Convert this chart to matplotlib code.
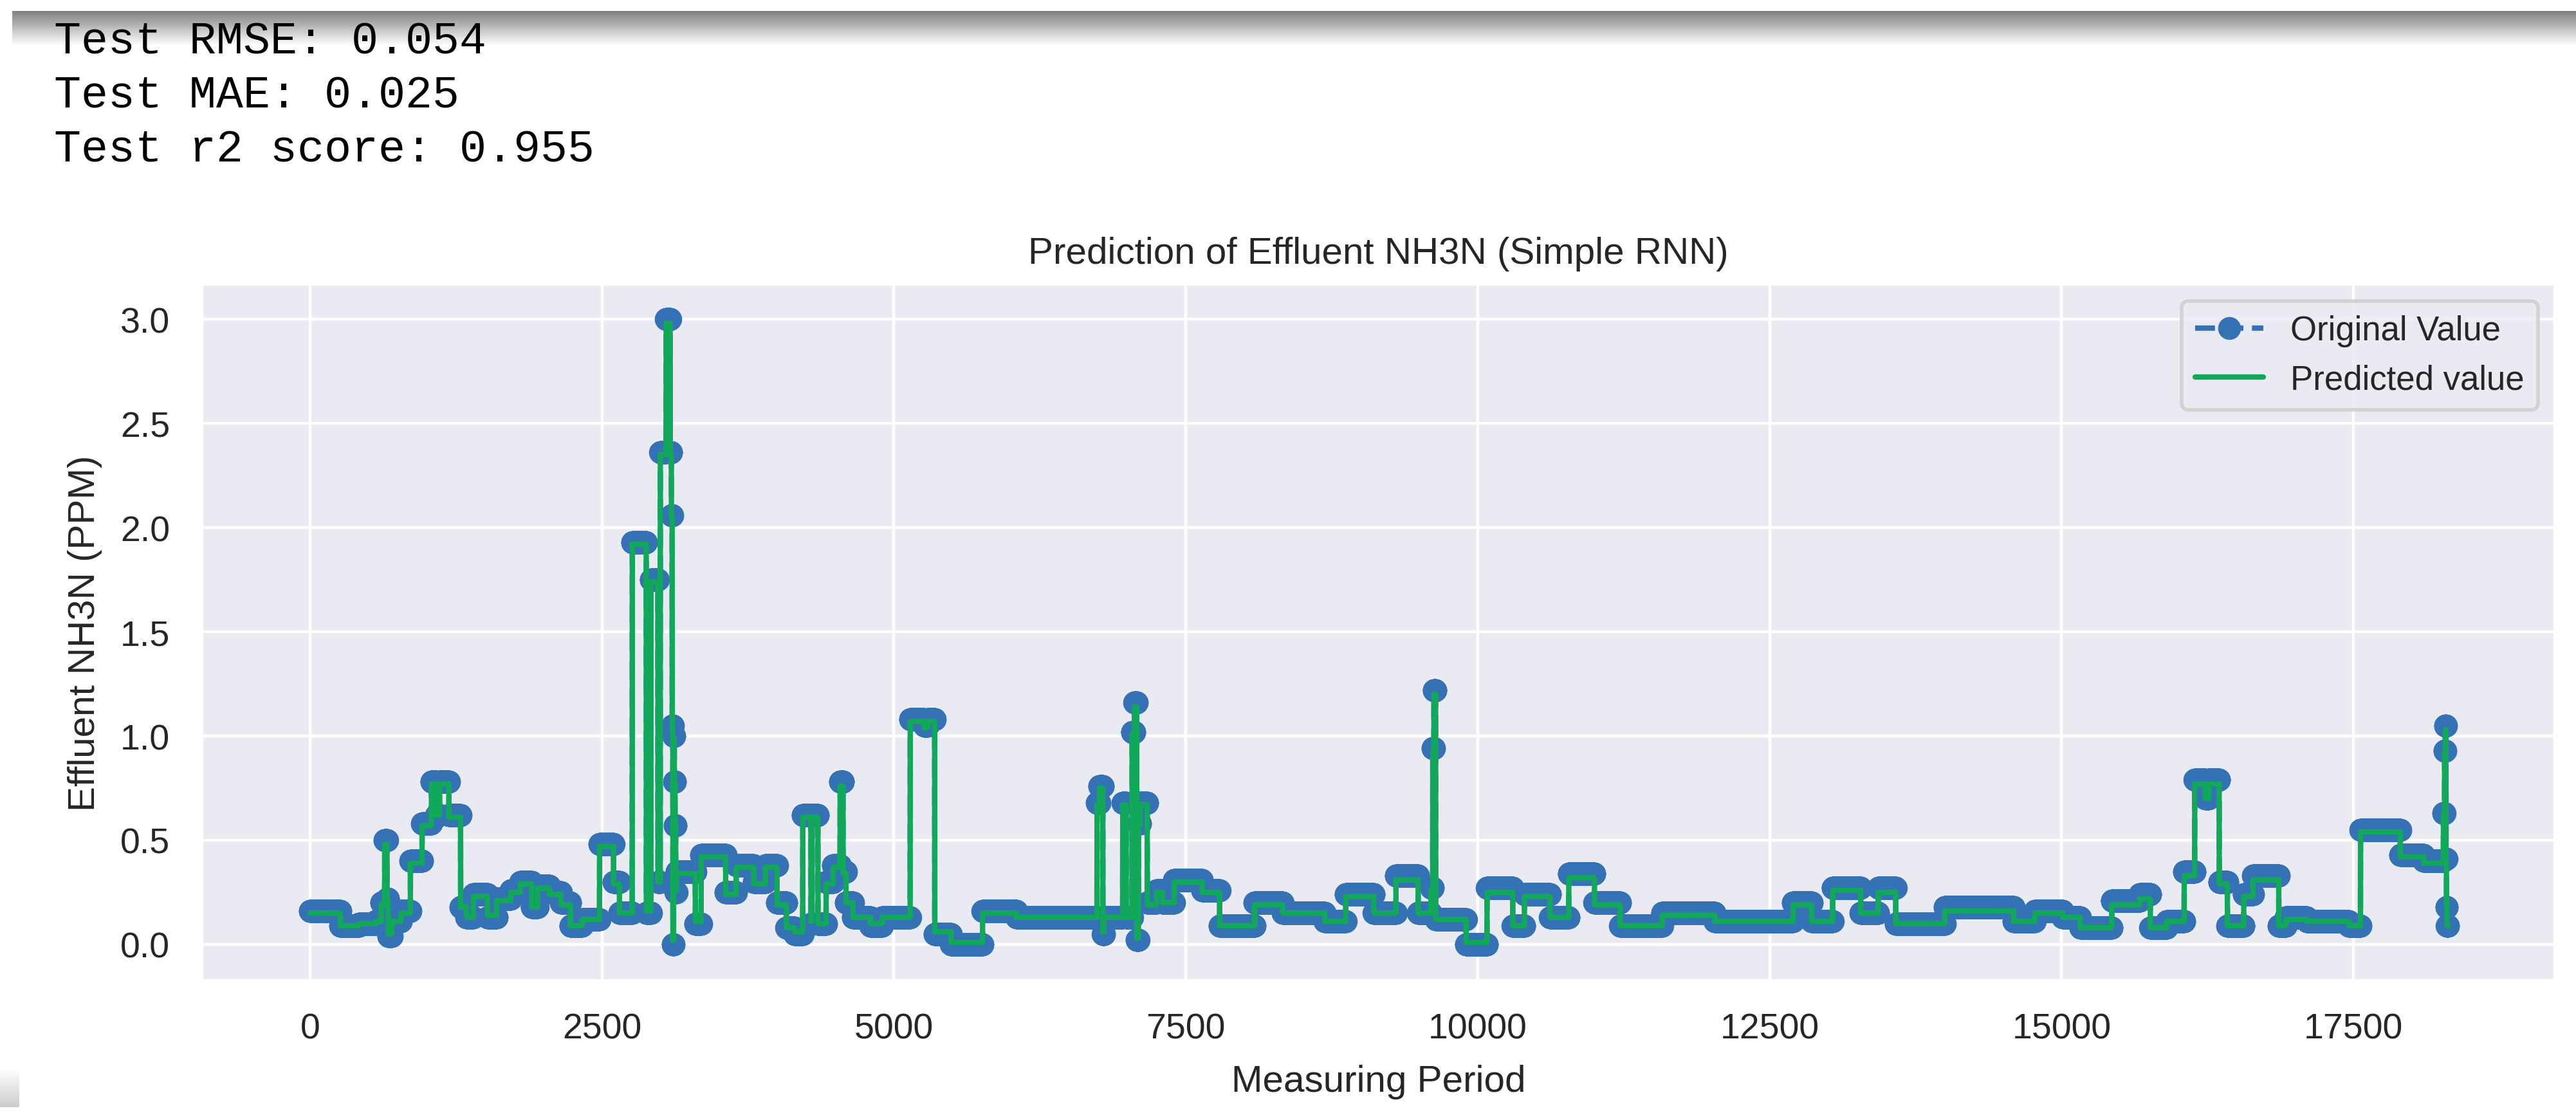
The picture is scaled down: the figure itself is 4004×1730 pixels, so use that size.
import numpy as np
import matplotlib
matplotlib.use('Agg')
import matplotlib.pyplot as plt
import seaborn as sns

# metrics printed above the chart
metric_lines = ["Test RMSE: 0.054", "Test MAE: 0.025", "Test r2 score: 0.955"]

# series: index where a run starts and its level
seg_start = [0, 260, 420, 560, 610, 640, 660, 670, 700, 780,
             860, 960, 1040, 1080, 1110, 1190, 1290, 1340, 1400, 1520,
             1600, 1720, 1800, 1900, 1950, 2050, 2150, 2230, 2330, 2480,
             2600, 2650, 2760, 2880, 2920, 2980, 3000, 3050, 3085, 3095,
             3102, 3108, 3114, 3120, 3126, 3132, 3140, 3300, 3350, 3560,
             3650, 3800, 3900, 4000, 4080, 4150, 4220, 4290, 4300, 4350,
             4420, 4480, 4540, 4565, 4590, 4650, 4800, 4900, 5140, 5260,
             5290, 5350, 5490, 5760, 6050, 6740, 6760, 6790, 6800, 6960,
             6990, 7040, 7060, 7080, 7095, 7110, 7170, 7250, 7300, 7400,
             7640, 7790, 8090, 8330, 8690, 8870, 9110, 9300, 9490, 9600,
             9615, 9625, 9640, 9900, 10080, 10300, 10400, 10620, 10780, 11000,
             11220, 11580, 12030, 12700, 12860, 13040, 13280, 13430, 13580, 14000,
             14590, 14770, 15010, 15160, 15430, 15670, 15760, 15900, 16050, 16140,
             16230, 16260, 16350, 16420, 16560, 16640, 16860, 16920, 17100, 17460,
             17560, 17900, 18100, 18270, 18280, 18286, 18292, 18296, 18300]
orig_level = [0.16, 0.09, 0.10, 0.11, 0.20, 0.50, 0.22, 0.04, 0.11, 0.16,
              0.40, 0.58, 0.78, 0.62, 0.78, 0.62, 0.18, 0.13, 0.24, 0.13,
              0.22, 0.26, 0.30, 0.18, 0.28, 0.25, 0.20, 0.09, 0.12, 0.48,
              0.30, 0.15, 1.93, 0.15, 1.75, 0.30, 2.36, 3.00, 2.36, 2.06,
              1.05, 0.00, 1.00, 0.78, 0.57, 0.25, 0.35, 0.10, 0.43, 0.25,
              0.38, 0.30, 0.38, 0.20, 0.08, 0.05, 0.62, 0.10, 0.62, 0.10,
              0.30, 0.38, 0.78, 0.35, 0.20, 0.13, 0.09, 0.13, 1.08, 1.05,
              1.08, 0.05, 0.00, 0.16, 0.13, 0.68, 0.76, 0.05, 0.13, 0.68,
              0.13, 1.02, 1.16, 0.02, 0.58, 0.68, 0.20, 0.26, 0.20, 0.31,
              0.26, 0.09, 0.20, 0.15, 0.11, 0.24, 0.15, 0.33, 0.15, 0.27,
              0.94, 1.22, 0.12, 0.00, 0.27, 0.09, 0.24, 0.13, 0.34, 0.20,
              0.09, 0.15, 0.11, 0.20, 0.11, 0.27, 0.15, 0.27, 0.10, 0.18,
              0.11, 0.16, 0.13, 0.08, 0.21, 0.24, 0.08, 0.11, 0.35, 0.79,
              0.70, 0.79, 0.30, 0.09, 0.24, 0.33, 0.09, 0.13, 0.11, 0.09,
              0.55, 0.43, 0.40, 0.63, 0.93, 1.05, 0.41, 0.18, 0.09]
pred_level = [0.15, 0.09, 0.10, 0.11, 0.19, 0.48, 0.21, 0.05, 0.11, 0.15,
              0.39, 0.57, 0.77, 0.62, 0.77, 0.61, 0.18, 0.13, 0.23, 0.14,
              0.21, 0.25, 0.29, 0.18, 0.27, 0.24, 0.19, 0.09, 0.12, 0.47,
              0.29, 0.15, 1.92, 0.16, 1.74, 0.30, 2.35, 2.98, 2.35, 2.05,
              1.04, 0.02, 0.99, 0.78, 0.57, 0.26, 0.34, 0.11, 0.42, 0.24,
              0.37, 0.29, 0.37, 0.19, 0.08, 0.06, 0.61, 0.11, 0.61, 0.10,
              0.29, 0.37, 0.76, 0.34, 0.20, 0.13, 0.10, 0.13, 1.07, 1.04,
              1.07, 0.06, 0.01, 0.15, 0.13, 0.67, 0.75, 0.06, 0.13, 0.67,
              0.13, 1.01, 1.14, 0.03, 0.57, 0.67, 0.19, 0.25, 0.20, 0.30,
              0.25, 0.09, 0.19, 0.15, 0.11, 0.23, 0.15, 0.31, 0.15, 0.26,
              0.93, 1.20, 0.12, 0.01, 0.25, 0.09, 0.23, 0.13, 0.32, 0.19,
              0.09, 0.14, 0.11, 0.19, 0.11, 0.26, 0.15, 0.25, 0.10, 0.16,
              0.11, 0.15, 0.13, 0.08, 0.19, 0.22, 0.08, 0.11, 0.33, 0.77,
              0.70, 0.77, 0.29, 0.09, 0.23, 0.31, 0.09, 0.12, 0.11, 0.09,
              0.54, 0.42, 0.39, 0.62, 0.92, 1.03, 0.40, 0.18, 0.09]
n_points = 18310

lengths = np.diff(seg_start + [n_points])
original = np.repeat(orig_level, lengths)
predicted = np.repeat(pred_level, lengths)
period = np.arange(n_points)

sns.set_style('darkgrid')
plt.rcParams['font.family'] = ['Liberation Sans', 'DejaVu Sans']

W, H = 4004, 1731
fig = plt.figure(figsize=(W / 400, H / 400), dpi=400)

# notebook cell shadow at the very top
shade = fig.add_axes([19 / W, 1 - 72 / H, 1 - 19 / W, 54 / H])
grad = np.linspace(0.5, 1.0, 64)[:, None] * np.ones((1, 8))
shade.imshow(grad, cmap='gray', vmin=0, vmax=1, aspect='auto', interpolation='bilinear')
shade.axis('off')

corner = fig.add_axes([0, 1 - 1722 / H, 30 / W, 60 / H])
corner.imshow(np.linspace(1.0, 0.8, 32)[:, None] * np.ones((1, 4)), cmap='gray',
              vmin=0, vmax=1, aspect='auto')
corner.axis('off')

# printed metrics
for i, line in enumerate(metric_lines):
    fig.text(84 / W, 1 - (83 + 84.5 * i) / H, line, family='Liberation Mono',
             fontsize=12.6, color='black', va='baseline', ha='left')

ax = fig.add_axes([314 / W, 1 - 1525 / H, (3971 - 314) / W, (1525 - 443) / H])
ax.plot(period, original, '--o', color='#3571b5', markersize=5.6, markeredgewidth=0.8,
        linewidth=1.5, label='Original Value')
ax.plot(period, predicted, '-', color='#12a85a', linewidth=1.5, label='Predicted value')

ax.set_xlim(-925, 19223)
ax.set_ylim(-0.173, 3.167)
ax.set_xticks(np.arange(0, 17501, 2500))
ax.set_yticks(np.arange(0, 3.01, 0.5))
ax.tick_params(axis='both', labelsize=10, length=0, pad=9, labelcolor='.15')
ax.set_xlabel('Measuring Period', fontsize=10.5, color='.15', labelpad=5)
ax.set_ylabel('Effluent NH3N (PPM)', fontsize=10.5, color='.15', labelpad=5)
ax.set_title('Prediction of Effluent NH3N (Simple RNN)', fontsize=10.5, color='.15', pad=6)
ax.legend(loc='upper right', fontsize=9.5)

fig.savefig('out.png', dpi=400)
